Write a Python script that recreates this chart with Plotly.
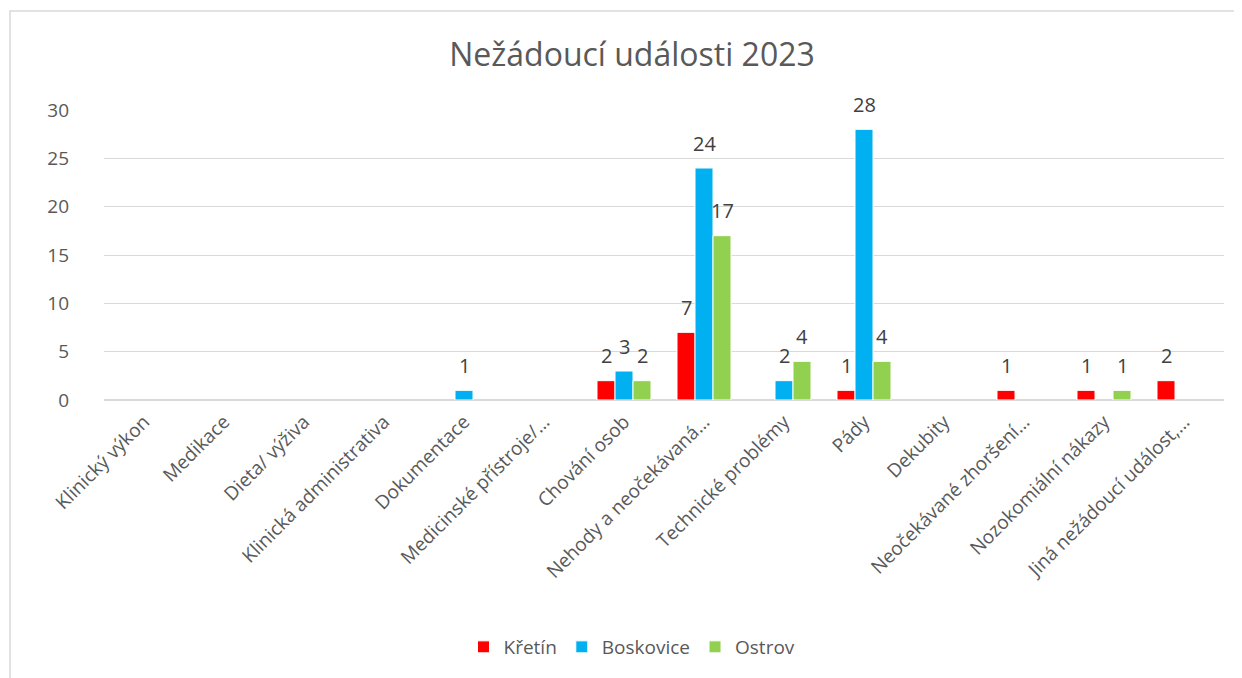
import plotly.graph_objects as go

categories = [
    "Klinický výkon", "Medikace", "Dieta/ výživa", "Klinická administrativa",
    "Dokumentace", "Medicinské přístroje/…", "Chování osob",
    "Nehody a neočekávaná…", "Technické problémy", "Pády", "Dekubity",
    "Neočekávané zhoršení…", "Nozokomiální nákazy", "Jiná nežádoucí událost,…",
]

kretin = [0, 0, 0, 0, 0, 0, 2, 7, 0, 1, 0, 1, 1, 2]
boskovice = [0, 0, 0, 0, 1, 0, 3, 24, 2, 28, 0, 0, 0, 0]
ostrov = [0, 0, 0, 0, 0, 0, 2, 17, 4, 4, 0, 0, 1, 0]

series = [("Křetín", kretin, "#ff0000"),
          ("Boskovice", boskovice, "#00b0f0"),
          ("Ostrov", ostrov, "#92d050")]

FONT = "'Open Sans', sans-serif"

# page body has an 8px margin, so the figure is shrunk by that
W, H = 1234, 670
L, R, T, B = 96, 18, 102, 278
PW, PH = W - L - R, H - T - B
BARGAP = 0.325

fig = go.Figure()
for name, vals, col in series:
    fig.add_trace(go.Bar(
        x=categories,
        y=[v if v else None for v in vals],
        name=name,
        marker=dict(color=col, line=dict(color="white", width=1)),
        cliponaxis=False,
    ))

# value labels above the bars (Excel puts them a bit higher than plotly does)
slot = PW / len(categories) * (1 - BARGAP) / len(series)
for k, (name, vals, col) in enumerate(series):
    off = (k - (len(series) - 1) / 2) * slot
    for cat, v in zip(categories, vals):
        if not v:
            continue
        fig.add_annotation(x=cat, y=v, text=str(v), showarrow=False,
                           xshift=off, yshift=25, yanchor="middle",
                           font=dict(size=20, color="#404040", family=FONT))

fig.update_layout(
    width=W, height=H,
    paper_bgcolor="white", plot_bgcolor="white",
    margin=dict(l=L, r=R, t=T, b=B, autoexpand=False),
    barmode="group", bargap=BARGAP, bargroupgap=0.0,
    font=dict(family=FONT, color="#595959", size=18),
    title=dict(text="Nežádoucí události 2023", x=624 / W, xanchor="center",
               y=1 - 47 / H, yanchor="middle",
               font=dict(size=32, color="#595959", family=FONT)),
    showlegend=True,
    legend=dict(orientation="h", x=(624 - L) / PW, xanchor="center",
                y=(392 - 639) / PH, yanchor="middle",
                font=dict(size=19, color="#595959"),
                itemwidth=30, traceorder="normal"),
)
fig.update_xaxes(tickangle=-45, tickfont=dict(size=19, color="#595959"),
                 showline=False, showgrid=False, ticks="", automargin=False,
                 ticklabelstandoff=6)
fig.update_yaxes(range=[0, 30], dtick=5, showgrid=True, gridcolor="#d9d9d9",
                 gridwidth=1, zeroline=True, zerolinecolor="#d9d9d9",
                 tickfont=dict(size=19, color="#595959"), ticks="",
                 ticklabelstandoff=34, automargin=False)
fig.add_shape(type="rect", xref="paper", yref="paper",
              x0=(2 - L) / PW, x1=(W + 20 - L) / PW,
              y0=-(B + 20) / PH, y1=1 + (T - 3) / PH,
              line=dict(color="#d9d9d9", width=1.5), layer="below")

fig.write_html("out.html")
